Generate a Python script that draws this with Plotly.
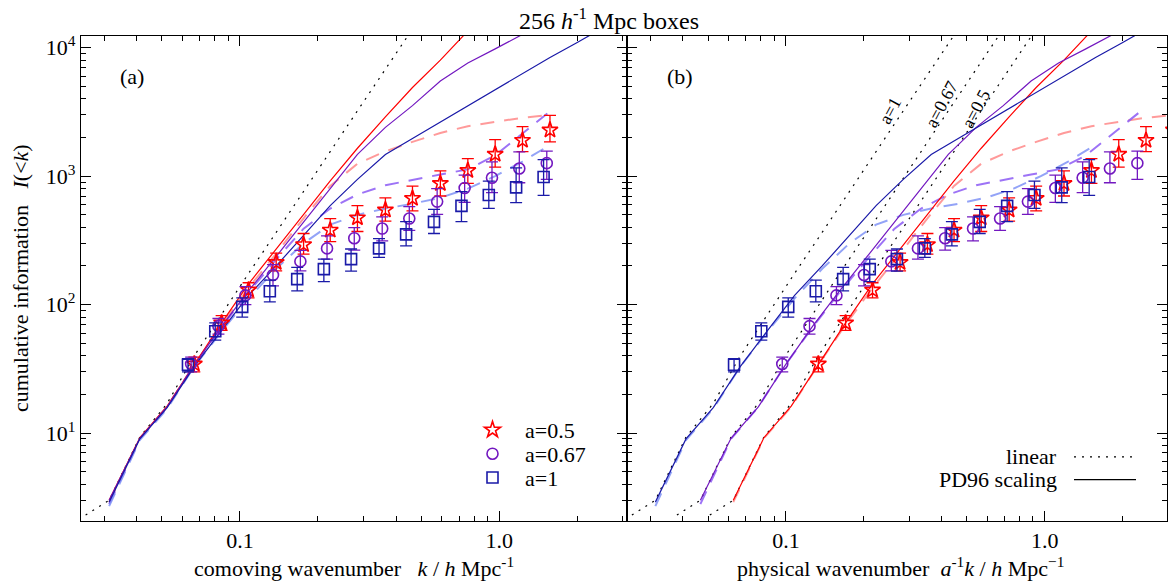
import plotly.graph_objects as go

W, H = 1168, 583

# ---------------- data ----------------
k_bins = [0.0667, 0.085, 0.108, 0.138, 0.176, 0.223, 0.284, 0.364, 0.463, 0.593, 0.757, 0.965, 1.23, 1.57]

I_a05 = [34.5, 72, 130, 213, 293, 380, 474, 546, 672, 878, 1107, 1483, 1903, 2288]
I_a05_hi = [39, 82, 148, 252, 358, 468, 590, 677, 838, 1101, 1371, 1924, 2427, 2975]
I_a05_lo = [30, 63, 113, 183, 247, 309, 371, 446, 537, 701, 878, 1177, 1553, 1847]

I_a067 = [34.5, 68, 118, 170, 217, 274, 329, 391, 468, 634, 809, 972, 1147, 1263]
I_a067_hi = [39, 78, 138, 205, 264, 343, 398, 482, 580, 799, 1020, 1293, 1545, 1564]
I_a067_lo = [30, 59, 100, 140, 183, 226, 266, 314, 378, 505, 626, 744, 889, 943]

I_a1 = [34, 62, 96, 127, 158, 189, 226, 274, 352, 441, 587, 714, 818, 984]
I_a1_hi = [38, 72, 113, 155, 195, 226, 271, 327, 443, 552, 757, 916, 1161, 1346]
I_a1_lo = [30, 53, 80, 105, 128, 151, 182, 233, 287, 358, 443, 562, 622, 709]

k_line = [0.0254, 0.0313, 0.0411, 0.0524, 0.0667, 0.085, 0.108, 0.138, 0.176, 0.223,
          0.284, 0.364, 0.463, 0.593, 0.757, 0.965, 1.23, 1.57, 2.0, 2.55]
lin_I = [2.3, 3.0, 9.3, 17, 40, 85, 175, 365, 765, 1560, 3230, 6800, 14000]
pd_red = [3.0, 9.2, 16.2, 34.5, 72, 145, 270, 500, 920, 1650, 2900, 4900, 8000, 13500]
pd_purple = [3.0, 9.1, 16.0, 34, 68, 128, 237, 440, 815, 1480, 2400, 3540, 5500, 7600, 9800, 12700]
pd_blue = [2.9, 9.0, 15.8, 33, 63, 118, 200, 345, 590, 945, 1473, 1967, 2642, 3545, 4748, 6350, 8400, 11000, 14500]
dash_red = [2.9, 9.1, 16, 34, 70, 135, 250, 470, 840, 1250, 1560, 1850, 2170, 2450, 2650, 2850, 3000]
dash_purple = [2.8, 9.0, 16, 34, 67, 125, 225, 390, 560, 720, 850, 940, 1030, 1130, 1450, 2150, 3200]
dash_blue = [2.7, 8.8, 15.5, 33, 62, 112, 190, 300, 420, 500, 560, 610, 680, 800, 1000, 1300, 1750]

a_vals = [0.5, 0.67, 1.0]
a_names = ["a=0.5", "a=0.67", "a=1"]
x_ticks = [0.1, 1.0]
x_ticktext = ["0.1", "1.0"]
y_ticks = [10, 100, 1000, 10000]
y_ticktext = ["10<sup>1</sup>", "10<sup>2</sup>", "10<sup>3</sup>", "10<sup>4</sup>"]

# ---------------- styles ----------------
RED, PURPLE, BLUE = "#ff0000", "#7318c0", "#1a1aa8"
DRED, DPURPLE, DBLUE = "rgba(255,120,120,0.75)", "rgba(140,90,245,0.85)", "rgba(120,140,245,0.8)"
FONT = "Liberation Serif, Times New Roman, serif"
FS = 22

L0, L1, R0, R1 = 81, 627, 627, 1167
T, B = 32, 520.5


def pxx(x):
    return x / W


def pxy(y):
    return 1 - y / H


fig = go.Figure()

series = [
    (I_a05, I_a05_hi, I_a05_lo, "star-open", RED, 12, 1.0),
    (I_a067, I_a067_hi, I_a067_lo, "circle-open", PURPLE, 11, 0.972),
    (I_a1, I_a1_hi, I_a1_lo, "square-open", BLUE, 11, 0.945),
]
pd_lines = [(pd_red, RED, DRED, dash_red), (pd_purple, PURPLE, DPURPLE, dash_purple),
            (pd_blue, BLUE, DBLUE, dash_blue)]
legend_ids = ["legend", "legend2", "legend3"]

for panel in (1, 2):
    xa = "x" if panel == 1 else "x2"
    ya = "y" if panel == 1 else "y2"
    # dashed model curves
    for i, (pdv, col, dcol, dv) in enumerate(pd_lines):
        s = 1.0 if panel == 1 else 1.0 / a_vals[i]
        fig.add_trace(go.Scatter(x=[k * s for k in k_line[1:1 + len(dv)]], y=dv, mode="lines",
                                 line=dict(color=dcol, width=2, dash="14px,10px"),
                                 xaxis=xa, yaxis=ya, showlegend=False, hoverinfo="skip"))
    # linear (dotted)
    lin_scales = [1.0] if panel == 1 else [1.0 / a for a in a_vals]
    for s in lin_scales:
        fig.add_trace(go.Scatter(x=[k * s for k in k_line[:len(lin_I)]], y=lin_I, mode="lines",
                                 line=dict(color="black", width=1.2, dash="2px,6px"),
                                 xaxis=xa, yaxis=ya, showlegend=False, hoverinfo="skip"))
    # PD96 solid
    for i, (pdv, col, dcol, dv) in enumerate(pd_lines):
        s = 1.0 if panel == 1 else 1.0 / a_vals[i]
        fig.add_trace(go.Scatter(x=[k * s for k in k_line[1:1 + len(pdv)]], y=pdv, mode="lines",
                                 line=dict(color=col, width=1.2),
                                 xaxis=xa, yaxis=ya, showlegend=False, hoverinfo="skip"))
    # measurements
    for i, (Iv, hi, lo, sym, col, sz, dodge) in enumerate(series):
        s = 1.0 if panel == 1 else 1.0 / a_vals[i]
        fig.add_trace(go.Scatter(
            x=[k * s * dodge for k in k_bins], y=Iv, mode="markers",
            marker=dict(symbol=sym, size=sz, color=col, line=dict(color=col, width=1.6)),
            error_y=dict(type="data", symmetric=False,
                         array=[h - v for h, v in zip(hi, Iv)],
                         arrayminus=[v - l for v, l in zip(Iv, lo)],
                         color=col, thickness=1.3, width=6),
            xaxis=xa, yaxis=ya, name=a_names[i], showlegend=(panel == 1),
            legend=legend_ids[i], hoverinfo="skip"))

minor_x = [m * 10 ** e for e in (-2, -1, 0) for m in range(2, 10) if 0.024 < m * 10 ** e < 3.1]
minor_y = [m * 10 ** e for e in (0, 1, 2, 3, 4) for m in range(2, 10) if 2 < m * 10 ** e < 12500]

axis_common = dict(type="log", showline=True, linecolor="black", linewidth=1.3, mirror="ticks",
                   ticks="inside", ticklen=10, tickwidth=1.1, tickcolor="black", showgrid=False,
                   zeroline=False, tickfont=dict(family=FONT, size=FS, color="black"),
                   minor=dict(tickmode="array", tickvals=None, ticks="inside", ticklen=5,
                              tickwidth=1, tickcolor="black", showgrid=False))

xcommon = dict(axis_common, tickmode="array", tickvals=x_ticks, ticktext=x_ticktext,
               minor=dict(axis_common["minor"], tickvals=minor_x))
ycommon = dict(axis_common, tickmode="array", tickvals=y_ticks, ticktext=y_ticktext,
               range=[0.316, 4.093], minor=dict(axis_common["minor"], tickvals=minor_y))

leg_style = dict(xanchor="left", yanchor="middle", bgcolor="rgba(0,0,0,0)",
                 font=dict(family=FONT, size=FS, color="black"), itemwidth=55,
                 borderwidth=0)

fig.update_layout(
    width=W, height=H, margin=dict(l=0, r=0, t=0, b=0),
    paper_bgcolor="white", plot_bgcolor="white",
    font=dict(family=FONT, size=FS, color="black"),
    xaxis=dict(xcommon, domain=[pxx(L0), pxx(L1)], range=[-1.613, 0.493], anchor="y"),
    yaxis=dict(ycommon, domain=[pxy(B), pxy(T)], anchor="x"),
    xaxis2=dict(xcommon, domain=[pxx(R0), pxx(R1)], range=[-1.614, 0.472], anchor="y2"),
    yaxis2=dict(ycommon, domain=[pxy(B), pxy(T)], anchor="x2", showticklabels=False),
    legend=dict(leg_style, x=pxx(460), y=pxy(429)),
    legend2=dict(leg_style, x=pxx(460), y=pxy(453)),
    legend3=dict(leg_style, x=pxx(460), y=pxy(477)),
    showlegend=True,
)

NB = "\u00a0"
ann = [
    dict(x=pxx(609), y=pxy(15), text="256 <i>h</i><sup>-1</sup> Mpc boxes", size=24),
    dict(x=pxx(132), y=pxy(73), text="(a)", size=FS),
    dict(x=pxx(680), y=pxy(73), text="(b)", size=FS),
    dict(x=pxx(354), y=pxy(567), text="comoving wavenumber" + NB * 3 + "<i>k</i> / <i>h</i> Mpc<sup>-1</sup>", size=FS),
    dict(x=pxx(901), y=pxy(567), text="physical wavenumber" + NB * 2 + "<i>a</i><sup>-1</sup><i>k</i> / <i>h</i> Mpc<sup>\u22121</sup>", size=FS),
]
for a in ann:
    fig.add_annotation(x=a["x"], y=a["y"], xref="paper", yref="paper", text=a["text"],
                       showarrow=False, xanchor="center", yanchor="middle",
                       font=dict(family=FONT, size=a["size"], color="black"))

fig.add_annotation(x=pxx(20), y=pxy(276), xref="paper", yref="paper",
                   text="cumulative information" + NB * 3 + "<i>I</i>(&lt;<i>k</i>)",
                   showarrow=False, textangle=-90, xanchor="center", yanchor="middle",
                   font=dict(family=FONT, size=FS, color="black"))

# rotated labels for the linear curves
for txt, xx, yy in [("a=1", 890, 108), ("a=0.67", 942, 101), ("a=0.5", 976, 106)]:
    fig.add_annotation(x=pxx(xx), y=pxy(yy), xref="paper", yref="paper", text=txt,
                       showarrow=False, textangle=-62, xanchor="center", yanchor="middle",
                       font=dict(family=FONT, size=18, color="black"))

# right-panel legend (text left, line sample right)
for txt, yy, dash in [("linear", 456, "2px,6px"), ("PD96 scaling", 479, "solid")]:
    fig.add_annotation(x=pxx(1059), y=pxy(yy), xref="paper", yref="paper", text=txt,
                       showarrow=False, xanchor="right", yanchor="middle",
                       font=dict(family=FONT, size=FS, color="black"))
    fig.add_shape(type="line", xref="paper", yref="paper", x0=pxx(1074), x1=pxx(1136),
                  y0=pxy(yy), y1=pxy(yy), line=dict(color="black", width=1.2, dash=dash))

fig.write_html("out.html")
